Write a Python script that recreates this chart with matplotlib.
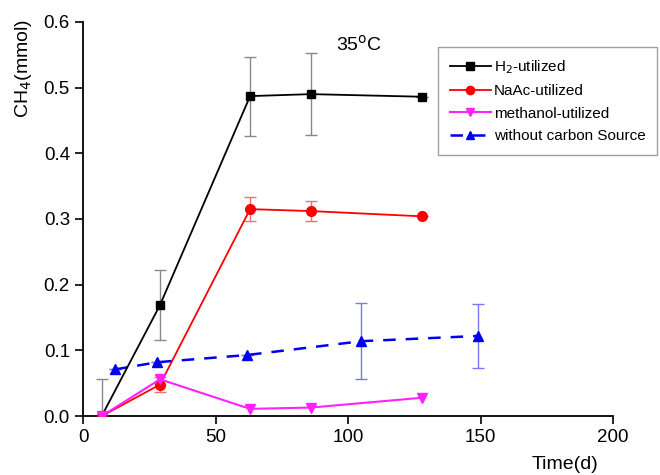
import numpy as np
import matplotlib
matplotlib.use('Agg')
import matplotlib.pyplot as plt

plt.rcParams['font.family'] = ['Liberation Sans', 'DejaVu Sans']

# H2-utilized
t_h2 = [7, 29, 63, 86, 128]
ch4_h2 = [0.0, 0.169, 0.487, 0.490, 0.486]
err_h2 = [0.056, 0.053, 0.060, 0.062, 0.0]

# NaAc-utilized
t_naac = [7, 29, 63, 86, 128]
ch4_naac = [0.0, 0.048, 0.315, 0.312, 0.304]
err_naac = [0.0, 0.011, 0.018, 0.015, 0.0]

# methanol-utilized
t_meoh = [7, 29, 63, 86, 128]
ch4_meoh = [0.0, 0.056, 0.011, 0.013, 0.028]

# without carbon source
t_none = [12, 28, 62, 105, 149]
ch4_none = [0.071, 0.082, 0.093, 0.114, 0.122]
err_none = [0.0, 0.0, 0.0, 0.058, 0.049]

fig = plt.figure(figsize=(6.6, 4.75), dpi=100)
ax = fig.add_axes([0.126, 0.124, 0.803, 0.830])

ax.errorbar(t_h2, ch4_h2, yerr=err_h2, fmt='none', ecolor='#888888',
            elinewidth=1, capsize=4, zorder=1)
ax.errorbar(t_naac, ch4_naac, yerr=err_naac, fmt='none', ecolor='#f07070',
            elinewidth=1, capsize=4, zorder=1)
ax.errorbar(t_none, ch4_none, yerr=err_none, fmt='none', ecolor='#7777ee',
            elinewidth=1, capsize=4, zorder=1)

ax.plot(t_h2, ch4_h2, '-s', color='black', ms=6, lw=1.3, label='H$_2$-utilized', zorder=3)
ax.plot(t_naac, ch4_naac, '-o', color='red', ms=7, lw=1.3, label='NaAc-utilized', zorder=3)
ax.plot(t_meoh, ch4_meoh, '-v', color='#ff22ff', ms=7, lw=1.5, label='methanol-utilized', zorder=4)
ax.plot(t_none, ch4_none, '--^', color='#0000ee', ms=7, lw=1.8, dashes=(5, 4),
        label='without carbon Source', zorder=2)

ax.set_xlim(0, 200)
ax.set_ylim(0, 0.6)
ax.set_xticks([0, 50, 100, 150, 200])
ax.set_yticks([0, 0.1, 0.2, 0.3, 0.4, 0.5, 0.6])
ax.set_yticklabels(['0.0', '0.1', '0.2', '0.3', '0.4', '0.5', '0.6'])
ax.spines['top'].set_visible(False)
ax.spines['right'].set_visible(False)
ax.spines['left'].set_linewidth(1.3)
ax.spines['bottom'].set_linewidth(1.3)
ax.tick_params(direction='out', length=6, width=1.2, labelsize=13.5)

ax.text(104, 0.565, '35$^{\\rm o}$C', fontsize=14, ha='center', va='center')

fig.text(0.02, 0.96, 'CH$_4$(mmol)', rotation=90, fontsize=14, ha='left', va='top')
fig.text(0.907, 0.005, 'Time(d)', fontsize=14, ha='right', va='bottom')

leg = ax.legend(loc='upper right', bbox_to_anchor=(1.083, 0.937), fontsize=11,
                frameon=True, fancybox=False, edgecolor='#888888',
                handlelength=2.7, handletextpad=0.2, labelspacing=0.55,
                borderpad=0.75, borderaxespad=0.0, markerscale=0.85)
leg.get_frame().set_linewidth(1.0)

plt.savefig('out.png', dpi=100)
